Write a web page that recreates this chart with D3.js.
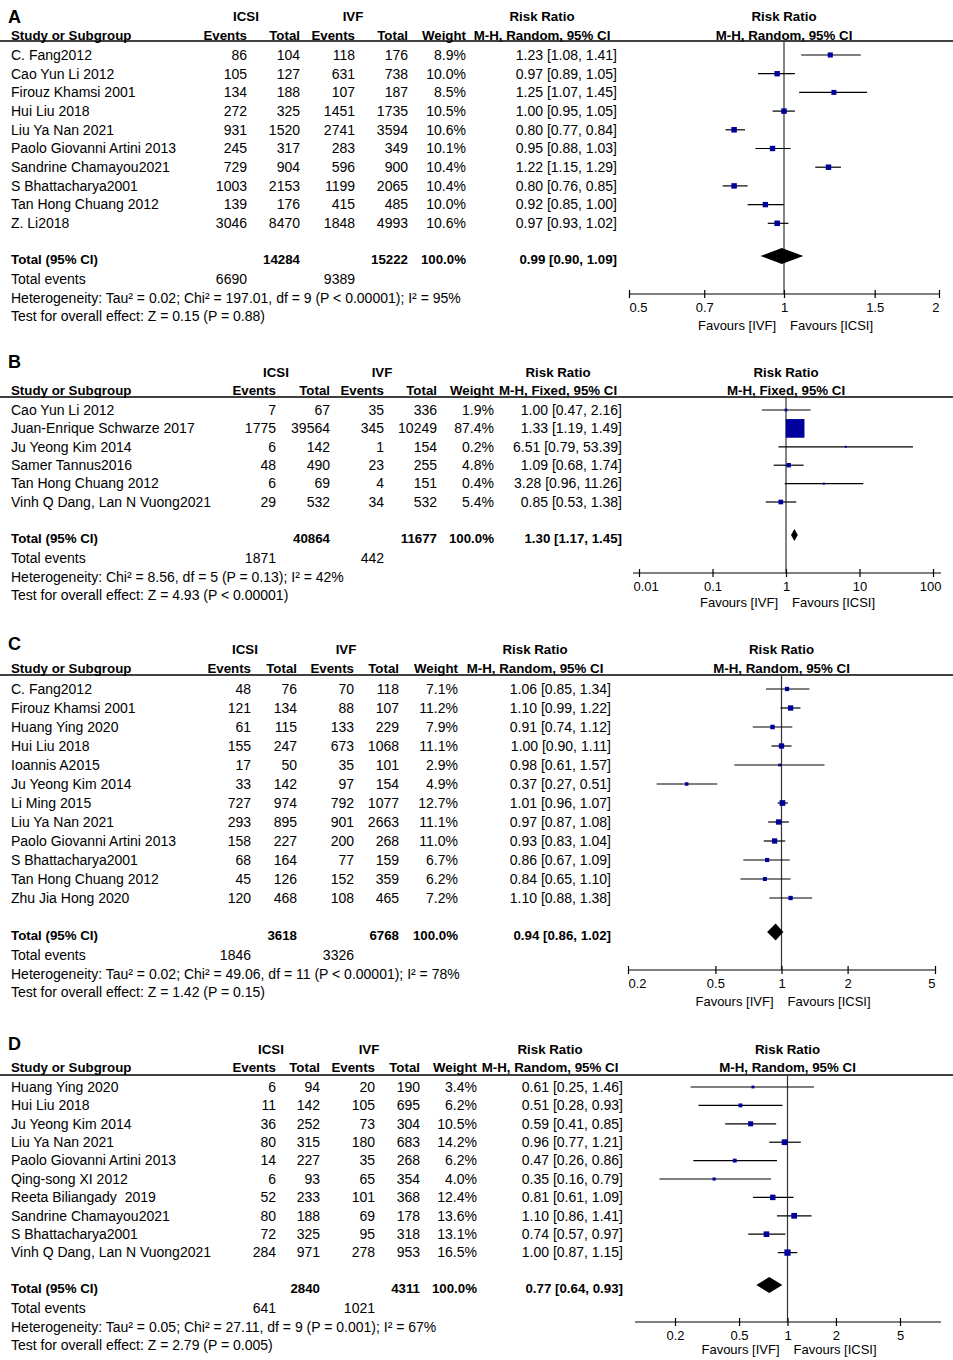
<!DOCTYPE html>
<html>
<head>
<meta charset="utf-8">
<script src="https://cdn.jsdelivr.net/npm/d3@7"></script>
<style>
    body { margin: 0; background: #fff; }
    text { font-family: "Liberation Sans", Arial, sans-serif; font-size: 14px; fill: #000; white-space: pre; }
    .bold { font-weight: bold; font-size: 13.3px; }
    .small { font-size: 13px; }
</style>
</head>
<body>
<div id="forest"></div>
<script>
/**
 * Panel A data.
 */
const studiesA = ["C. Fang2012", "Cao Yun Li 2012", "Firouz Khamsi 2001", "Hui Liu 2018",
    "Liu Ya Nan 2021", "Paolo Giovanni Artini 2013", "Sandrine Chamayou2021",
    "S Bhattacharya2001", "Tan Hong Chuang 2012", "Z. Li2018"];
const icsiEventsA = [86, 105, 134, 272, 931, 245, 729, 1003, 139, 3046];
const icsiTotalA = [104, 127, 188, 325, 1520, 317, 904, 2153, 176, 8470];
const ivfEventsA = [118, 631, 107, 1451, 2741, 283, 596, 1199, 415, 1848];
const ivfTotalA = [176, 738, 187, 1735, 3594, 349, 900, 2065, 485, 4993];
const weightA = [8.9, 10.0, 8.5, 10.5, 10.6, 10.1, 10.4, 10.4, 10.0, 10.6];
const rrA = [1.23, 0.97, 1.25, 1.00, 0.80, 0.95, 1.22, 0.80, 0.92, 0.97];
const loA = [1.08, 0.89, 1.07, 0.95, 0.77, 0.88, 1.15, 0.76, 0.85, 0.93];
const hiA = [1.41, 1.05, 1.45, 1.05, 0.84, 1.03, 1.29, 0.85, 1.00, 1.02];
const totalsA = [14284, 15222];
const totalEventsA = [6690, 9389];
const overallA = [0.99, 0.90, 1.09];
const hetA = "Heterogeneity: Tau\u00b2 = 0.02; Chi\u00b2 = 197.01, df = 9 (P < 0.00001); I\u00b2 = 95%";
const testA = "Test for overall effect: Z = 0.15 (P = 0.88)";
const ticksA = [0.5, 0.7, 1, 1.5, 2];

/**
 * Panel B data.
 */
const studiesB = ["Cao Yun Li 2012", "Juan-Enrique Schwarze 2017", "Ju Yeong Kim 2014",
    "Samer Tannus2016", "Tan Hong Chuang 2012", "Vinh Q Dang, Lan N Vuong2021"];
const icsiEventsB = [7, 1775, 6, 48, 6, 29];
const icsiTotalB = [67, 39564, 142, 490, 69, 532];
const ivfEventsB = [35, 345, 1, 23, 4, 34];
const ivfTotalB = [336, 10249, 154, 255, 151, 532];
const weightB = [1.9, 87.4, 0.2, 4.8, 0.4, 5.4];
const rrB = [1.00, 1.33, 6.51, 1.09, 3.28, 0.85];
const loB = [0.47, 1.19, 0.79, 0.68, 0.96, 0.53];
const hiB = [2.16, 1.49, 53.39, 1.74, 11.26, 1.38];
const totalsB = [40864, 11677];
const totalEventsB = [1871, 442];
const overallB = [1.30, 1.17, 1.45];
const hetB = "Heterogeneity: Chi\u00b2 = 8.56, df = 5 (P = 0.13); I\u00b2 = 42%";
const testB = "Test for overall effect: Z = 4.93 (P < 0.00001)";
const ticksB = [0.01, 0.1, 1, 10, 100];

/**
 * Panel C data.
 */
const studiesC = ["C. Fang2012", "Firouz Khamsi 2001", "Huang Ying 2020", "Hui Liu 2018",
    "Ioannis A2015", "Ju Yeong Kim 2014", "Li Ming 2015", "Liu Ya Nan 2021",
    "Paolo Giovanni Artini 2013", "S Bhattacharya2001", "Tan Hong Chuang 2012", "Zhu Jia Hong 2020"];
const icsiEventsC = [48, 121, 61, 155, 17, 33, 727, 293, 158, 68, 45, 120];
const icsiTotalC = [76, 134, 115, 247, 50, 142, 974, 895, 227, 164, 126, 468];
const ivfEventsC = [70, 88, 133, 673, 35, 97, 792, 901, 200, 77, 152, 108];
const ivfTotalC = [118, 107, 229, 1068, 101, 154, 1077, 2663, 268, 159, 359, 465];
const weightC = [7.1, 11.2, 7.9, 11.1, 2.9, 4.9, 12.7, 11.1, 11.0, 6.7, 6.2, 7.2];
const rrC = [1.06, 1.10, 0.91, 1.00, 0.98, 0.37, 1.01, 0.97, 0.93, 0.86, 0.84, 1.10];
const loC = [0.85, 0.99, 0.74, 0.90, 0.61, 0.27, 0.96, 0.87, 0.83, 0.67, 0.65, 0.88];
const hiC = [1.34, 1.22, 1.12, 1.11, 1.57, 0.51, 1.07, 1.08, 1.04, 1.09, 1.10, 1.38];
const totalsC = [3618, 6768];
const totalEventsC = [1846, 3326];
const overallC = [0.94, 0.86, 1.02];
const hetC = "Heterogeneity: Tau\u00b2 = 0.02; Chi\u00b2 = 49.06, df = 11 (P < 0.00001); I\u00b2 = 78%";
const testC = "Test for overall effect: Z = 1.42 (P = 0.15)";
const ticksC = [0.2, 0.5, 1, 2, 5];

/**
 * Panel D data.
 */
const studiesD = ["Huang Ying 2020", "Hui Liu 2018", "Ju Yeong Kim 2014", "Liu Ya Nan 2021",
    "Paolo Giovanni Artini 2013", "Qing-song XI 2012", "Reeta Biliangady  2019",
    "Sandrine Chamayou2021", "S Bhattacharya2001", "Vinh Q Dang, Lan N Vuong2021"];
const icsiEventsD = [6, 11, 36, 80, 14, 6, 52, 80, 72, 284];
const icsiTotalD = [94, 142, 252, 315, 227, 93, 233, 188, 325, 971];
const ivfEventsD = [20, 105, 73, 180, 35, 65, 101, 69, 95, 278];
const ivfTotalD = [190, 695, 304, 683, 268, 354, 368, 178, 318, 953];
const weightD = [3.4, 6.2, 10.5, 14.2, 6.2, 4.0, 12.4, 13.6, 13.1, 16.5];
const rrD = [0.61, 0.51, 0.59, 0.96, 0.47, 0.35, 0.81, 1.10, 0.74, 1.00];
const loD = [0.25, 0.28, 0.41, 0.77, 0.26, 0.16, 0.61, 0.86, 0.57, 0.87];
const hiD = [1.46, 0.93, 0.85, 1.21, 0.86, 0.79, 1.09, 1.41, 0.97, 1.15];
const totalsD = [2840, 4311];
const totalEventsD = [641, 1021];
const overallD = [0.77, 0.64, 0.93];
const hetD = "Heterogeneity: Tau\u00b2 = 0.05; Chi\u00b2 = 27.11, df = 9 (P = 0.001); I\u00b2 = 67%";
const testD = "Test for overall effect: Z = 2.79 (P = 0.005)";
const ticksD = [0.2, 0.5, 1, 2, 5];

const columnHeads = ["Events", "Total", "Events", "Total", "Weight"];

/**
 * Layout of each panel, in pixels.
 */
const Layouts = [
    { letter: "A", method: "M-H, Random, 95% CI", letterY: 16, groupY: 16, headY: 35, lineY: 41,
      firstRow: 55, rowStep: 18.7, totalY: 259, axisY: 294, favDy: 31,
      cols: [247, 300, 355, 408, 466, 617], icsiX: 246, ivfX: 353, rrX: 542,
      domain: [0.5, 2], range: [629, 939], line: [629, 939], sq: 1.7, dia: 16 },
    { letter: "B", method: "M-H, Fixed, 95% CI", letterY: 361, groupY: 372, headY: 390, lineY: 397,
      firstRow: 410, rowStep: 18.4, totalY: 538, axisY: 573, favDy: 29,
      cols: [276, 330, 384, 437, 494, 622], icsiX: 276, ivfX: 382, rrX: 558,
      domain: [0.01, 100], range: [639, 933], line: [633, 941], sq: 2.0, dia: 12 },
    { letter: "C", method: "M-H, Random, 95% CI", letterY: 643, groupY: 649, headY: 668, lineY: 675,
      firstRow: 689, rowStep: 19.0, totalY: 935, axisY: 970, favDy: 31,
      cols: [251, 297, 354, 399, 458, 611], icsiX: 245, ivfX: 346, rrX: 535,
      domain: [0.2, 5], range: [628, 935], line: [628, 935], sq: 1.6, dia: 17 },
    { letter: "D", method: "M-H, Random, 95% CI", letterY: 1043, groupY: 1049, headY: 1067, lineY: 1075,
      firstRow: 1087, rowStep: 18.4, totalY: 1288, axisY: 1322, favDy: 27,
      cols: [276, 320, 375, 420, 477, 623], icsiX: 271, ivfX: 369, rrX: 550,
      domain: [0.2, 5], range: [675, 900], line: [635, 941], sq: 1.55, dia: 16 },
];

const Panels = [
    { studies: studiesA, icsiEvents: icsiEventsA, icsiTotal: icsiTotalA, ivfEvents: ivfEventsA,
      ivfTotal: ivfTotalA, weight: weightA, rr: rrA, lo: loA, hi: hiA, totals: totalsA,
      totalEvents: totalEventsA, overall: overallA, het: hetA, test: testA, ticks: ticksA },
    { studies: studiesB, icsiEvents: icsiEventsB, icsiTotal: icsiTotalB, ivfEvents: ivfEventsB,
      ivfTotal: ivfTotalB, weight: weightB, rr: rrB, lo: loB, hi: hiB, totals: totalsB,
      totalEvents: totalEventsB, overall: overallB, het: hetB, test: testB, ticks: ticksB },
    { studies: studiesC, icsiEvents: icsiEventsC, icsiTotal: icsiTotalC, ivfEvents: ivfEventsC,
      ivfTotal: ivfTotalC, weight: weightC, rr: rrC, lo: loC, hi: hiC, totals: totalsC,
      totalEvents: totalEventsC, overall: overallC, het: hetC, test: testC, ticks: ticksC },
    { studies: studiesD, icsiEvents: icsiEventsD, icsiTotal: icsiTotalD, ivfEvents: ivfEventsD,
      ivfTotal: ivfTotalD, weight: weightD, rr: rrD, lo: loD, hi: hiD, totals: totalsD,
      totalEvents: totalEventsD, overall: overallD, het: hetD, test: testD, ticks: ticksD },
];

const SquareColor = "#00009c";


const fmtCI = (rr, lo, hi) => `${rr.toFixed(2)} [${lo.toFixed(2)}, ${hi.toFixed(2)}]`;


const drawPanel = (svg, p, L) => {
    const g = svg.append("g");
    const x = d3.scaleLog().domain(L.domain).range(L.range);
    const rowY = i => L.firstRow + i * L.rowStep;
    const x1 = x(1);

    // Small helper: text centred vertically on y.
    const label = (str, xPos, y, anchor, cls) => g.append("text")
        .attr("x", xPos)
        .attr("y", y + 4.8)
        .attr("text-anchor", anchor)
        .attr("class", cls || null)
        .text(str);

    // Panel letter.
    g.append("text")
        .attr("x", 8)
        .attr("y", L.letterY + 6.5)
        .attr("class", "bold")
        .style("font-size", "18px")
        .text(L.letter);

    // Group headers.
    label("ICSI", L.icsiX, L.groupY, "middle", "bold");
    label("IVF", L.ivfX, L.groupY, "middle", "bold");
    label("Risk Ratio", L.rrX, L.groupY, "middle", "bold");
    label("Risk Ratio", x1, L.groupY, "middle", "bold");

    // Column headers.
    label("Study or Subgroup", 11, L.headY, "start", "bold");
    columnHeads.forEach((h, i) => label(h, L.cols[i], L.headY, "end", "bold"));
    label(L.method, L.rrX, L.headY, "middle", "bold");
    label(L.method, x1, L.headY, "middle", "bold");

    g.append("line")
        .attr("x1", 0).attr("x2", 953)
        .attr("y1", L.lineY).attr("y2", L.lineY)
        .attr("stroke", "#000")
        .attr("stroke-width", 1.3);

    // Study rows.
    const rows = p.studies.map((s, i) => ({
        i, study: s,
        cells: [p.icsiEvents[i], p.icsiTotal[i], p.ivfEvents[i], p.ivfTotal[i],
            p.weight[i].toFixed(1) + "%", fmtCI(p.rr[i], p.lo[i], p.hi[i])],
        rr: p.rr[i], lo: p.lo[i], hi: p.hi[i], w: p.weight[i],
    }));

    rows.forEach(d => {
        label(d.study, 11, rowY(d.i), "start");
        d.cells.forEach((c, j) => label(c, L.cols[j], rowY(d.i), "end"));
    });

    // Reference line at 1.
    g.append("line")
        .attr("x1", x1).attr("x2", x1)
        .attr("y1", L.lineY).attr("y2", L.axisY)
        .attr("stroke", "#333")
        .attr("stroke-width", 1.2);

    // Confidence intervals.
    g.selectAll(".ci")
        .data(rows)
        .join("line")
            .attr("x1", d => x(d.lo))
            .attr("x2", d => x(d.hi))
            .attr("y1", d => rowY(d.i))
            .attr("y2", d => rowY(d.i))
            .attr("stroke", "#000")
            .attr("stroke-width", 1.2);

    // Weight squares.
    const side = w => Math.max(2, L.sq * Math.sqrt(w));
    g.selectAll(".sq")
        .data(rows)
        .join("rect")
            .attr("x", d => x(d.rr) - side(d.w) / 2)
            .attr("y", d => rowY(d.i) - side(d.w) / 2)
            .attr("width", d => side(d.w))
            .attr("height", d => side(d.w))
            .attr("fill", SquareColor);

    // Total row.
    label("Total (95% CI)", 11, L.totalY, "start", "bold");
    label(p.totals[0], L.cols[1], L.totalY, "end", "bold");
    label(p.totals[1], L.cols[3], L.totalY, "end", "bold");
    label("100.0%", L.cols[4], L.totalY, "end", "bold");
    label(fmtCI(p.overall[0], p.overall[1], p.overall[2]), L.cols[5], L.totalY, "end", "bold");

    label("Total events", 11, L.totalY + 20, "start");
    label(p.totalEvents[0], L.cols[0], L.totalY + 20, "end");
    label(p.totalEvents[1], L.cols[2], L.totalY + 20, "end");
    label(p.het, 11, L.totalY + 39, "start");
    label(p.test, 11, L.totalY + 57, "start");

    // Pooled diamond.
    const [orr, olo, ohi] = p.overall;
    const h = L.dia / 2;
    const cy = L.totalY - 3;
    g.append("path")
        .attr("d", `M${x(olo)},${cy} L${x(orr)},${cy - h} L${x(ohi)},${cy} L${x(orr)},${cy + h} Z`)
        .attr("fill", "#000");

    // Axis.
    const axis = d3.axisBottom(x)
        .tickValues(p.ticks)
        .tickFormat(d => String(d))
        .tickSize(4)
        .tickSizeOuter(0);
    const ag = g.append("g")
        .attr("transform", `translate(0,${L.axisY})`)
        .call(axis)
        .attr("font-family", null)
        .attr("font-size", null);
    ag.select(".domain").remove();
    ag.selectAll(".tick line")
        .attr("y1", -4)
        .attr("stroke", "#000")
        .attr("stroke-width", 1.2);
    ag.selectAll(".tick text")
        .attr("class", "small")
        .attr("dy", null)
        .attr("y", 17.5)
        .attr("fill", "#000")
        .each(function (d) {
            // Keep end labels inside the axis line.
            const w = this.getComputedTextLength();
            const left = x(d) - w / 2, right = x(d) + w / 2;
            let shift = 0;
            if (left < L.line[0]) shift = L.line[0] - left;
            if (right > L.line[1]) shift = L.line[1] - right;
            d3.select(this).attr("x", shift);
        });
    g.append("line")
        .attr("x1", L.line[0]).attr("x2", L.line[1])
        .attr("y1", L.axisY).attr("y2", L.axisY)
        .attr("stroke", "#000")
        .attr("stroke-width", 1.2);

    label("Favours [IVF]", x1 - 8, L.axisY + L.favDy, "end", "small");
    label("Favours [ICSI]", x1 + 6, L.axisY + L.favDy, "start", "small");
};


const printForest = () => {
    const svg = d3.select("#forest")
        .append("svg")
            .attr("width", 953)
            .attr("height", 1360);
    svg.append("rect")
        .attr("width", 953).attr("height", 1360)
        .attr("fill", "#fff");
    Panels.forEach((p, k) => drawPanel(svg, p, Layouts[k]));
};


printForest();
</script>
</body>
</html>
